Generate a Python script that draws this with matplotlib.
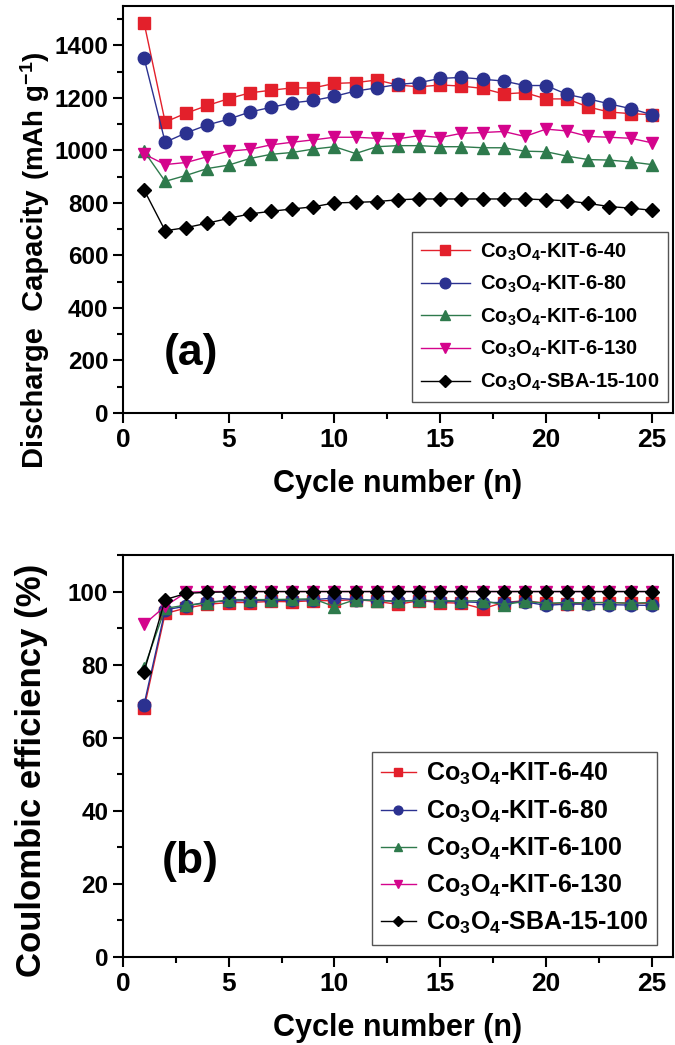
import matplotlib
matplotlib.use("Agg")
import matplotlib.pyplot as plt
from matplotlib.ticker import MultipleLocator

plt.rcParams['font.family'] = ['Liberation Sans', 'DejaVu Sans']
plt.rcParams['font.weight'] = 'bold'
plt.rcParams['mathtext.default'] = 'regular'

cycles = list(range(1, 26))

labels = ['Co$_3$O$_4$-KIT-6-40', 'Co$_3$O$_4$-KIT-6-80', 'Co$_3$O$_4$-KIT-6-100',
          'Co$_3$O$_4$-KIT-6-130', 'Co$_3$O$_4$-SBA-15-100']

cap_kit40 = [1487, 1108, 1142, 1171, 1197, 1219, 1229, 1238, 1238, 1255, 1258, 1268, 1249,
             1242, 1249, 1245, 1236, 1215, 1220, 1196, 1196, 1165, 1146, 1140, 1136]
cap_kit80 = [1353, 1031, 1067, 1097, 1119, 1146, 1164, 1181, 1190, 1206, 1226, 1238, 1251,
             1258, 1274, 1278, 1271, 1264, 1247, 1247, 1213, 1196, 1177, 1159, 1136]
cap_kit100 = [997, 882, 905, 931, 944, 969, 985, 992, 1005, 1014, 988, 1014, 1018,
              1018, 1014, 1014, 1010, 1010, 997, 995, 978, 965, 963, 956, 946]
cap_kit130 = [986, 946, 954, 976, 997, 1004, 1021, 1031, 1040, 1050, 1050, 1046, 1044,
              1056, 1049, 1065, 1068, 1072, 1053, 1081, 1074, 1053, 1050, 1046, 1029]
cap_sba100 = [850, 694, 706, 723, 741, 758, 768, 777, 785, 800, 802, 805, 812,
              815, 815, 815, 815, 815, 815, 812, 808, 798, 786, 780, 772]

ce_kit40 = [68, 94, 95.5, 96.5, 97, 97, 97.3, 97.2, 97.5, 97.5, 97.8, 97.3, 96.5,
            97.5, 97, 96.8, 95.3, 97, 97.5, 96.8, 96.5, 97, 97, 96.8, 96.8]
ce_kit80 = [69, 95, 96, 97.2, 97.4, 97.5, 97.6, 97.6, 97.8, 98.2, 97.8, 97.6, 97.4,
            97.6, 97.4, 97.2, 97.0, 97.0, 97.2, 96.2, 96.6, 96.5, 96.4, 96.3, 96.2]
ce_kit100 = [79, 95.4, 96.3, 96.8, 97.8, 97.8, 97.8, 97.9, 98.0, 95.9, 97.8, 97.5, 97.3,
             97.6, 97.5, 97.4, 97.5, 96.4, 97.3, 96.8, 97.0, 96.9, 97.0, 96.8, 97.0]
ce_kit130 = [91, 96, 99.8, 100, 100, 100, 100, 100, 100, 100, 100, 100, 100,
             100, 100, 100, 100, 100, 100, 100, 100, 100, 100, 100, 100]
ce_sba100 = [78, 97.8, 99.5, 99.8, 99.9, 100, 100, 100, 100, 100, 100, 100, 100,
             100, 100, 100, 100, 100, 100, 100, 100, 100, 100, 100, 100]

colors = ['#e3202b', '#2b3190', '#2e7a4c', '#d4048c', '#000000']
markers = ['s', 'o', '^', 'v', 'D']
msizes = [8, 9, 9, 9, 7.5]

cap_series = [cap_kit40, cap_kit80, cap_kit100, cap_kit130, cap_sba100]
ce_series = [ce_kit40, ce_kit80, ce_kit100, ce_kit130, ce_sba100]

fig = plt.figure(figsize=(6.75, 10.45), dpi=100)
ax1 = fig.add_axes([0.182, 0.6048, 0.815, 0.3895])
ax2 = fig.add_axes([0.182, 0.0842, 0.815, 0.3847])


def style(ax):
    for s in ax.spines.values():
        s.set_linewidth(1.5)
    ax.tick_params(which='major', direction='out', length=7, width=1.5)
    ax.tick_params(which='minor', direction='out', length=4, width=1.5)
    ax.tick_params(axis='y', labelsize=17.5)
    ax.tick_params(axis='x', labelsize=19, pad=4)
    ax.xaxis.set_major_locator(MultipleLocator(5))
    ax.xaxis.set_minor_locator(MultipleLocator(2.5))
    ax.set_xlim(0, 26)
    for t in ax.get_xticklabels() + ax.get_yticklabels():
        t.set_fontweight('bold')


for y, c, m, ms, lab in zip(cap_series, colors, markers, msizes, labels):
    ax1.plot(cycles, y, color=c, marker=m, markersize=ms, linewidth=1.0,
             markeredgecolor=c, label=lab)
style(ax1)
ax1.set_ylim(0, 1550)
ax1.yaxis.set_major_locator(MultipleLocator(200))
ax1.yaxis.set_minor_locator(MultipleLocator(100))
ax1.set_xlabel('Cycle number (n)', fontsize=22, fontweight='bold', labelpad=12)
fig.text(0.052, 1 - 468 / 1045, 'Discharge  Capacity', rotation=90, fontsize=21,
         fontweight='bold', ha='center', va='bottom')
fig.text(0.052, 1 - 180 / 1045, '(mAh g$^{-1}$)', rotation=90, fontsize=20,
         fontweight='bold', ha='center', va='bottom')
ax1.text(3.2, 225, '(a)', fontsize=32, fontweight='bold', ha='center', va='center')
leg1 = ax1.legend(loc='lower right', bbox_to_anchor=(0.991, 0.027), borderaxespad=0,
                  prop={'size': 14.5, 'weight': 'bold'}, handlelength=2.4,
                  fancybox=False, edgecolor='#555555', framealpha=1,
                  markerscale=0.85, labelspacing=0.56, borderpad=0.45, handletextpad=0.5)
leg1.get_frame().set_linewidth(1.0)

for y, c, m, ms, lab in zip(ce_series, colors, markers, msizes, labels):
    ax2.plot(cycles, y, color=c, marker=m, markersize=ms, linewidth=1.0,
             markeredgecolor=c, label=lab)
style(ax2)
ax2.set_ylim(0, 110)
ax2.yaxis.set_major_locator(MultipleLocator(20))
ax2.yaxis.set_minor_locator(MultipleLocator(10))
ax2.set_xlabel('Cycle number (n)', fontsize=22, fontweight='bold', labelpad=12)
fig.text(0.047, 1 - 770 / 1045, 'Coulombic efficiency (%)', rotation=90, fontsize=25,
         fontweight='bold', ha='center', va='center')
ax2.text(3.2, 26, '(b)', fontsize=32, fontweight='bold', ha='center', va='center')
leg2 = ax2.legend(loc='lower right', bbox_to_anchor=(0.971, 0.03), borderaxespad=0,
                  prop={'size': 18, 'weight': 'bold'}, handlelength=1.4,
                  fancybox=False, edgecolor='#555555', framealpha=1,
                  markerscale=0.7, labelspacing=0.44, borderpad=0.35, handletextpad=0.4)
leg2.get_frame().set_linewidth(1.0)

fig.savefig('out.png', dpi=100)
